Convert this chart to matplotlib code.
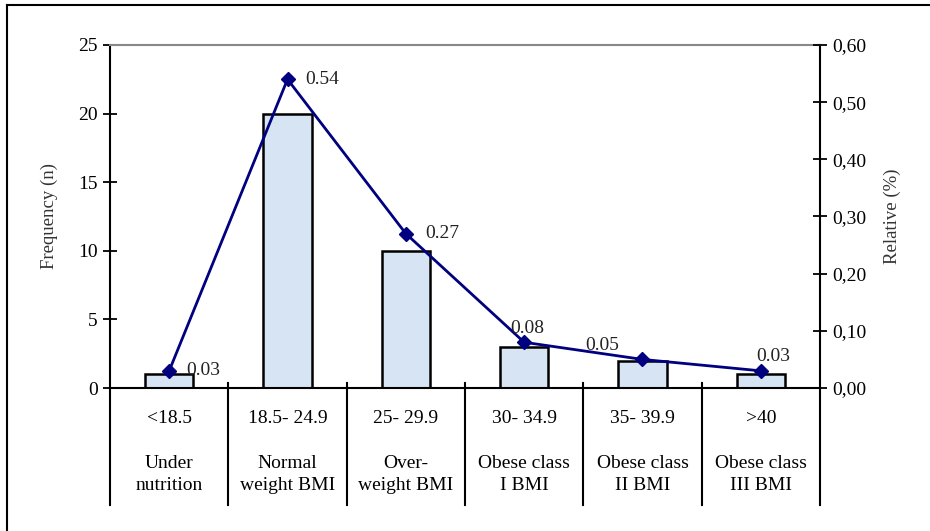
import numpy as np
import matplotlib.pyplot as plt
from matplotlib.lines import Line2D
from matplotlib.ticker import FuncFormatter

plt.rcParams['font.family'] = ['Liberation Serif', 'DejaVu Serif']

# IMC: frequência absoluta e relativa por classe
faixas = ['<18.5', '18.5- 24.9', '25- 29.9', '30- 34.9', '35- 39.9', '>40']
classes = ['Under\nnutrition', 'Normal\nweight BMI', 'Over-\nweight BMI',
           'Obese class\nI BMI', 'Obese class\nII BMI', 'Obese class\nIII BMI']
frequencia = [1, 20, 10, 3, 2, 1]
relativa = [0.03, 0.54, 0.27, 0.08, 0.05, 0.03]
rotulos = ['0.03', '0.54', '0.27', '0.08', '0.05', '0.03']
# deslocamento dos rótulos (pontos)
desloc = [(12, 0), (13, 0), (14, 0), (-10, 10), (-41, 10), (-3, 10)]

fig = plt.figure(figsize=(9.3, 5.31), dpi=100)
ax = fig.add_axes([0.1183, 0.2693, 0.7634, 0.6460])
x = np.arange(len(frequencia))

ax.bar(x, frequencia, width=0.41, color='#d6e4f4', edgecolor='black', linewidth=1.8, zorder=2)
ax.set_xlim(-0.5, len(x) - 0.5)
ax.set_ylim(0, 25)
ax.set_yticks([0, 5, 10, 15, 20, 25])
ax.set_xticks([])
ax.tick_params(axis='y', direction='inout', length=10, width=1.3, labelsize=14, pad=4)
ax.set_ylabel('Frequency (n)', fontsize=13.5, color='#333333', labelpad=14)
for s in ['left', 'right', 'bottom']:
    ax.spines[s].set_linewidth(1.5)
ax.spines['top'].set_color('#888888')
ax.spines['top'].set_linewidth(1.5)

ax2 = ax.twinx()
ax2.plot(x, relativa, color='#000080', linewidth=2, marker='D', markersize=7, zorder=3)
ax2.set_ylim(0, 0.6)
ax2.set_yticks(np.arange(0, 0.61, 0.1))
ax2.yaxis.set_major_formatter(FuncFormatter(lambda v, p: f'{v:.2f}'.replace('.', ',')))
ax2.tick_params(axis='y', direction='inout', length=10, width=1.3, labelsize=14, pad=4)
ax2.set_ylabel('Relative (%)', fontsize=13.5, color='#333333', labelpad=12)
for s in ['left', 'right', 'bottom', 'top']:
    ax2.spines[s].set_visible(False)

for xi, v, t, d in zip(x, relativa, rotulos, desloc):
    ax2.annotate(t, (xi, v), xytext=d, textcoords='offset points',
                 ha='left', va='center', fontsize=14, color='#222222')

# tabela de categorias abaixo do eixo
trans = ax.get_xaxis_transform()
fundo = -0.341
for b in np.arange(-0.5, len(x), 1.0):
    topo = 0 if b in (-0.5, len(x) - 0.5) else 0.015
    ax.add_line(Line2D([b, b], [topo, fundo], transform=trans, color='black',
                       linewidth=1.5, clip_on=False))
for xi, f, c in zip(x, faixas, classes):
    ax.text(xi, -0.088, f, transform=trans, ha='center', va='center', fontsize=14)
    ax.text(xi, -0.252, c, transform=trans, ha='center', va='center', fontsize=14,
            linespacing=1.4)

# moldura externa
fig.add_artist(Line2D([7 / 930, 1], [1 - 5 / 531, 1 - 5 / 531], transform=fig.transFigure,
                      color='black', linewidth=1.5))
fig.add_artist(Line2D([7 / 930, 7 / 930], [0, 1 - 5 / 531], transform=fig.transFigure,
                      color='black', linewidth=1.5))

fig.savefig('out.png', dpi=100)
